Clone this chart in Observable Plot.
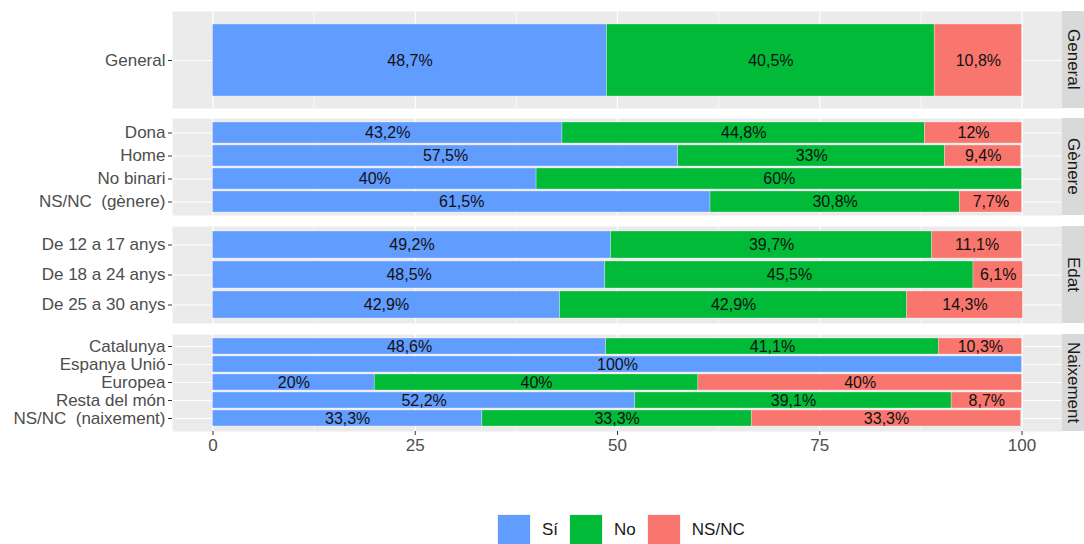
<!DOCTYPE html>
<html>
<head>
<meta charset="utf-8">
<script src="https://cdn.jsdelivr.net/npm/d3@7"></script>
<script src="https://cdn.jsdelivr.net/npm/@observablehq/plot@0.6"></script>
<style>
  body { margin: 0; background: #fff; font-family: "Liberation Sans", Arial, sans-serif; }
  #chart { position: relative; width: 1084px; height: 544px; overflow: hidden; }
  #chart svg { position: absolute; left: 0; }
  .strip { position: absolute; left: 1062px; width: 22px; background: #D9D9D9; color: #1A1A1A;
           font-size: 17px; display: flex; align-items: center; justify-content: center; }
  .strip span { writing-mode: vertical-rl; white-space: nowrap; }
  #legend { position: absolute; top: 514px; left: 497px; display: flex; align-items: center;
            font-size: 17px; color: #1A1A1A; }
  .key { width: 34px; height: 32px; box-sizing: border-box; border: 1px solid #F2F2F2; }
  .lab { margin-left: 11px; margin-right: 11px; }
</style>
</head>
<body>
<div id="chart"></div>
<script>
// ---- data ----
const answers = ["Sí", "No", "NS/NC"];
const answerColors = ["#619CFF", "#00BA38", "#F8766D"];
const groups = ["General", "Gènere", "Edat", "Naixement"];
const categories = [
  "General",
  "Dona", "Home", "No binari", "NS/NC  (gènere)",
  "De 12 a 17 anys", "De 18 a 24 anys", "De 25 a 30 anys",
  "Catalunya", "Espanya Unió", "Europea", "Resta del món", "NS/NC  (naixement)"
];
const categoryGroup = [
  "General",
  "Gènere", "Gènere", "Gènere", "Gènere",
  "Edat", "Edat", "Edat",
  "Naixement", "Naixement", "Naixement", "Naixement", "Naixement"
];
const siValues   = [48.7, 43.2, 57.5, 40, 61.5, 49.2, 48.5, 42.9, 48.6, 100, 20, 52.2, 33.3];
const noValues   = [40.5, 44.8, 33, 60, 30.8, 39.7, 45.5, 42.9, 41.1, 0, 40, 39.1, 33.3];
const nsncValues = [10.8, 12, 9.4, 0, 7.7, 11.1, 6.1, 14.3, 10.3, 0, 40, 8.7, 33.3];
const xTicks = [0, 25, 50, 75, 100];
const xMinor = [12.5, 37.5, 62.5, 87.5];

// ---- table ----
const series = [siValues, noValues, nsncValues];
const rows = [];
categories.forEach((c, i) => {
  answers.forEach((a, j) => {
    rows.push({group: categoryGroup[i], category: c, answer: a, value: series[j][i]});
  });
});
const fmt = v => String(v).replace(".", ",") + "%";

// ---- layout ----
const panelTops = [11, 118, 226, 334];
const panelH = 97;
const chart = document.getElementById("chart");

groups.forEach((g, gi) => {
  const last = gi === groups.length - 1;
  const data = rows.filter(d => d.group === g);
  const cats = categories.filter((c, i) => categoryGroup[i] === g);
  const plot = Plot.plot({
    width: 1084,
    height: panelH + (last ? 40 : 0),
    marginLeft: 172,
    marginRight: 22,
    marginTop: 0,
    marginBottom: last ? 40 : 0,
    x: {domain: [-5, 105], axis: null},
    y: {domain: cats, paddingInner: 0.1, paddingOuter: 0.15, axis: null},
    color: {domain: answers, range: answerColors},
    style: {fontFamily: "Liberation Sans, Arial, sans-serif", fontSize: "17px", overflow: "visible", background: "transparent"},
    marks: [
      Plot.frame({fill: "#EBEBEB", stroke: null}),
      Plot.gridX(xMinor, {stroke: "white", strokeOpacity: 1, strokeWidth: 0.6}),
      Plot.gridX(xTicks, {stroke: "white", strokeOpacity: 1, strokeWidth: 1.2}),
      Plot.gridY({stroke: "white", strokeOpacity: 1, strokeWidth: 1.2}),
      Plot.barX(data, {x: "value", y: "category", z: "answer", fill: "answer",
                       stroke: "white", strokeWidth: 0.5, strokeOpacity: 0.6}),
      Plot.text(data, Plot.stackX({x: "value", y: "category", z: "answer",
                       text: d => d.value > 0 ? fmt(d.value) : "",
                       fill: "#111", fontSize: 16})),
      Plot.axisY({tickSize: 4, tickPadding: 3, stroke: "#333", fill: "#4D4D4D", label: null, fontSize: 17}),
      last ? Plot.axisX(xTicks, {tickSize: 4, tickPadding: 3, stroke: "#333", fill: "#4D4D4D", label: null, fontSize: 17}) : null
    ]
  });
  plot.style.top = panelTops[gi] + "px";
  chart.appendChild(plot);

  const strip = document.createElement("div");
  strip.className = "strip";
  strip.style.top = panelTops[gi] + "px";
  strip.style.height = panelH + "px";
  const sp = document.createElement("span");
  sp.textContent = g;
  strip.appendChild(sp);
  chart.appendChild(strip);
});

// ---- legend ----
const legend = document.createElement("div");
legend.id = "legend";
answers.forEach((a, i) => {
  const k = document.createElement("div");
  k.className = "key";
  k.style.background = answerColors[i];
  const t = document.createElement("span");
  t.className = "lab";
  t.textContent = a;
  legend.appendChild(k);
  legend.appendChild(t);
});
chart.appendChild(legend);
</script>
</body>
</html>
